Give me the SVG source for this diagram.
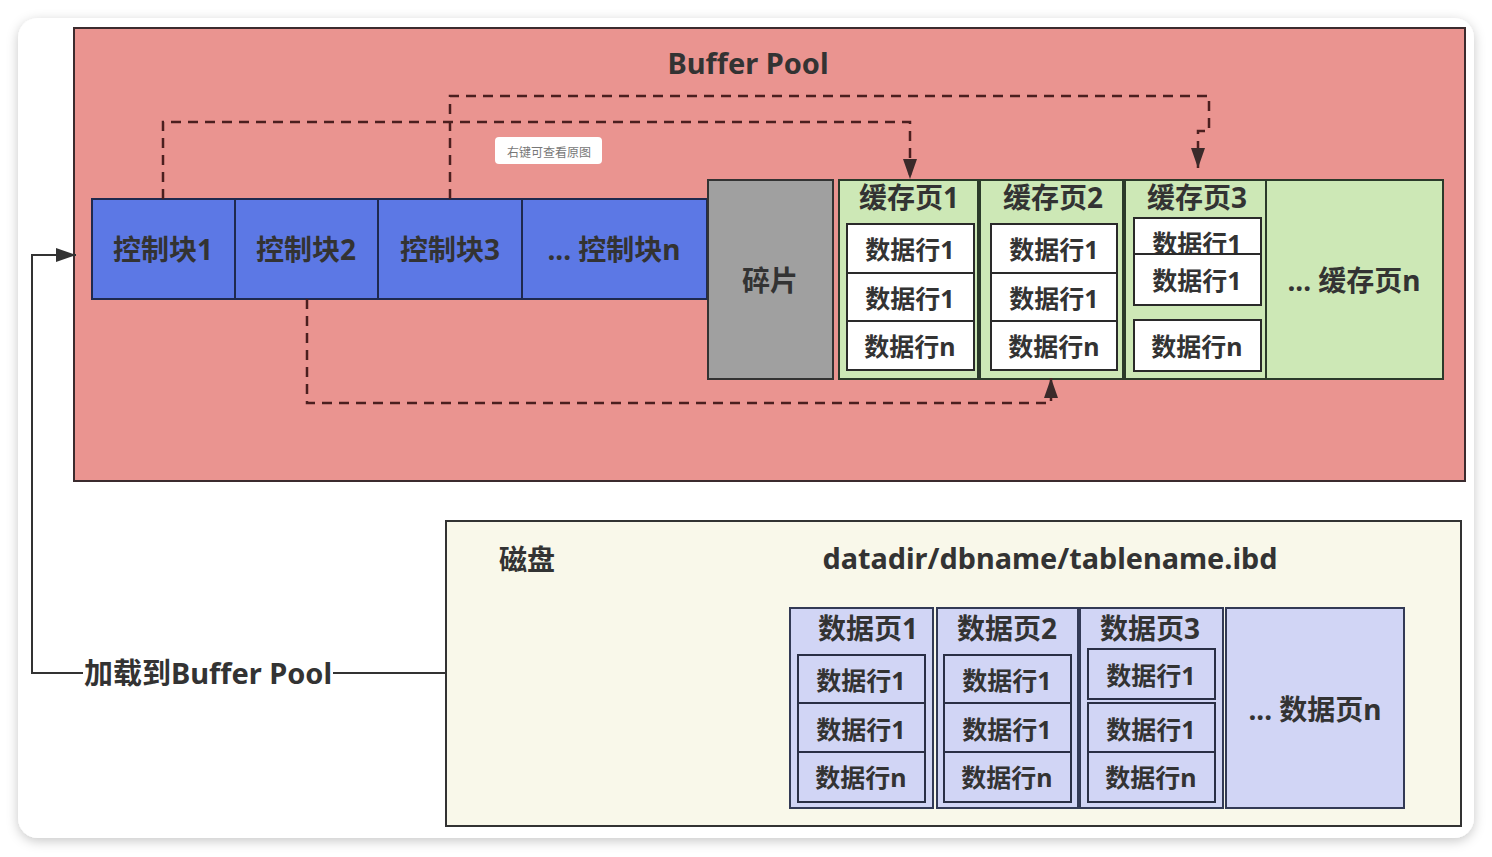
<svg xmlns="http://www.w3.org/2000/svg" width="1492" height="857" viewBox="0 0 1492 857">
<defs>
<filter id="shadow" x="-5%" y="-5%" width="110%" height="110%">
<feDropShadow dx="0" dy="3" stdDeviation="6" flood-color="#000" flood-opacity="0.22"/>
</filter>
<marker id="ah" markerUnits="userSpaceOnUse" markerWidth="20" markerHeight="14" refX="20" refY="7" orient="auto">
<path d="M0,0 L20,7 L0,14 z" fill="#3a2a2a"/>
</marker>
<marker id="ahs" markerUnits="userSpaceOnUse" markerWidth="20" markerHeight="14" refX="20" refY="7" orient="auto">
<path d="M0,0 L20,7 L0,14 z" fill="#333"/>
</marker>
</defs>
<style>
.t{font-family:"Noto Sans","Noto Sans CJK SC",sans-serif;font-weight:700;fill:#333;text-anchor:middle;dominant-baseline:central}
.h{font-size:28px}
.r{font-size:25px}
.pool{fill:#ea9490;stroke:#3b2b2e;stroke-width:2}
.ctl{fill:#5c78e5;stroke:#1f2a4f;stroke-width:2}
.frag{fill:#a0a0a0;stroke:#333;stroke-width:2}
.cache{fill:#cde8b6;stroke:#2b3a2a;stroke-width:2}
.row{fill:#fff;stroke:#2a2a2a;stroke-width:2}
.disk{fill:#f9f8ea;stroke:#333;stroke-width:2}
.page{fill:#d1d5f5;stroke:#333a55;stroke-width:2}
.prow{fill:#d1d5f5;stroke:#2a2f45;stroke-width:2}
.dash{fill:none;stroke:#4b1f1f;stroke-width:2.5;stroke-dasharray:10 7}
.solid{fill:none;stroke:#333;stroke-width:2}
</style>
<rect x="0" y="0" width="1492" height="857" fill="#ffffff"/>
<rect x="18" y="18" width="1456" height="820" rx="20" fill="#fff" filter="url(#shadow)"/>

<g id="buffer-pool">
<rect class="pool" x="74" y="28" width="1391" height="453"/>
<text class="t" font-size="29" x="748" y="62">Buffer Pool</text>
</g>

<g id="tooltip">
<rect x="495" y="137" width="107" height="27" rx="4" fill="#fff"/>
<text x="549" y="151" font-family="Noto Sans CJK SC, sans-serif" font-size="12" fill="#777" text-anchor="middle" dominant-baseline="central">右键可查看原图</text>
</g>

<g id="ctl1"><rect class="ctl" x="92" y="199" width="143" height="100"/><text class="t h" x="163" y="249">控制块1</text></g>
<g id="ctl2"><rect class="ctl" x="235" y="199" width="143" height="100"/><text class="t h" x="306" y="249">控制块2</text></g>
<g id="ctl3"><rect class="ctl" x="378" y="199" width="144" height="100"/><text class="t h" x="450" y="249">控制块3</text></g>
<g id="ctln"><rect class="ctl" x="522" y="199" width="185" height="100"/><text class="t h" x="614" y="249">... 控制块n</text></g>

<g id="frag"><rect class="frag" x="708" y="180" width="125" height="199"/><text class="t h" x="770" y="280">碎片</text></g>

<g id="cache1">
<rect class="cache" x="839" y="180" width="139" height="199"/>
<text class="t h" x="909" y="197">缓存页1</text>
<rect class="row" x="847" y="224" width="127" height="49"/><text class="t r" x="910" y="249">数据行1</text>
<rect class="row" x="847" y="273" width="127" height="48"/><text class="t r" x="910" y="298">数据行1</text>
<rect class="row" x="847" y="321" width="127" height="49"/><text class="t r" x="910" y="346">数据行n</text>
</g>
<g id="cache2">
<rect class="cache" x="980" y="180" width="143" height="199"/>
<text class="t h" x="1053" y="197">缓存页2</text>
<rect class="row" x="991" y="224" width="126" height="49"/><text class="t r" x="1054" y="249">数据行1</text>
<rect class="row" x="991" y="273" width="126" height="48"/><text class="t r" x="1054" y="298">数据行1</text>
<rect class="row" x="991" y="321" width="126" height="49"/><text class="t r" x="1054" y="346">数据行n</text>
</g>
<g id="cache3">
<rect class="cache" x="1125" y="180" width="141" height="199"/>
<text class="t h" x="1197" y="197">缓存页3</text>
<rect class="row" x="1134" y="218" width="127" height="36"/><text class="t r" x="1197" y="243">数据行1</text>
<rect class="row" x="1134" y="254" width="127" height="51"/><text class="t r" x="1197" y="280">数据行1</text>
<rect class="row" x="1134" y="320" width="127" height="51"/><text class="t r" x="1197" y="346">数据行n</text>
</g>
<g id="cachen">
<rect class="cache" x="1266" y="180" width="177" height="199"/>
<text class="t h" x="1354" y="280">... 缓存页n</text>
</g>

<g id="disk">
<rect class="disk" x="446" y="521" width="1015" height="305"/>
<text class="t h" x="527" y="559">磁盘</text>
<text class="t" font-size="28.5" x="1050" y="558" textLength="455" lengthAdjust="spacingAndGlyphs">datadir/dbname/tablename.ibd</text>
</g>

<g id="page1">
<rect class="page" x="790" y="608" width="143" height="200"/>
<text class="t h" x="868" y="628">数据页1</text>
<rect class="prow" x="798" y="655" width="127" height="48"/><text class="t r" x="861" y="680">数据行1</text>
<rect class="prow" x="798" y="703" width="127" height="49"/><text class="t r" x="861" y="729">数据行1</text>
<rect class="prow" x="798" y="752" width="127" height="50"/><text class="t r" x="861" y="777">数据行n</text>
</g>
<g id="page2">
<rect class="page" x="937" y="608" width="141" height="200"/>
<text class="t h" x="1007" y="628">数据页2</text>
<rect class="prow" x="944" y="655" width="127" height="48"/><text class="t r" x="1007" y="680">数据行1</text>
<rect class="prow" x="944" y="703" width="127" height="49"/><text class="t r" x="1007" y="729">数据行1</text>
<rect class="prow" x="944" y="752" width="127" height="50"/><text class="t r" x="1007" y="777">数据行n</text>
</g>
<g id="page3">
<rect class="page" x="1080" y="608" width="143" height="200"/>
<text class="t h" x="1150" y="628">数据页3</text>
<rect class="prow" x="1088" y="649" width="127" height="50"/><text class="t r" x="1151" y="675">数据行1</text>
<rect class="prow" x="1088" y="703" width="127" height="49"/><text class="t r" x="1151" y="729">数据行1</text>
<rect class="prow" x="1088" y="752" width="127" height="50"/><text class="t r" x="1151" y="777">数据行n</text>
</g>
<g id="pagen">
<rect class="page" x="1226" y="608" width="178" height="200"/>
<text class="t h" x="1315" y="709">... 数据页n</text>
</g>

<g id="connectors">
<path class="dash" d="M163,199 V122 H910 V179" marker-end="url(#ah)"/>
<path class="dash" d="M450,199 V96 H1209 V131 H1198 V168" marker-end="url(#ah)"/>
<path class="dash" d="M307,299 V403 H1051 V378" marker-end="url(#ah)"/>
<path class="solid" d="M446,673 H32 V255 H76" marker-end="url(#ahs)"/>
<rect x="83" y="656" width="250" height="34" fill="#fff"/>
<text class="t" font-size="29" x="208" y="672">加载到Buffer Pool</text>
</g>
</svg>
